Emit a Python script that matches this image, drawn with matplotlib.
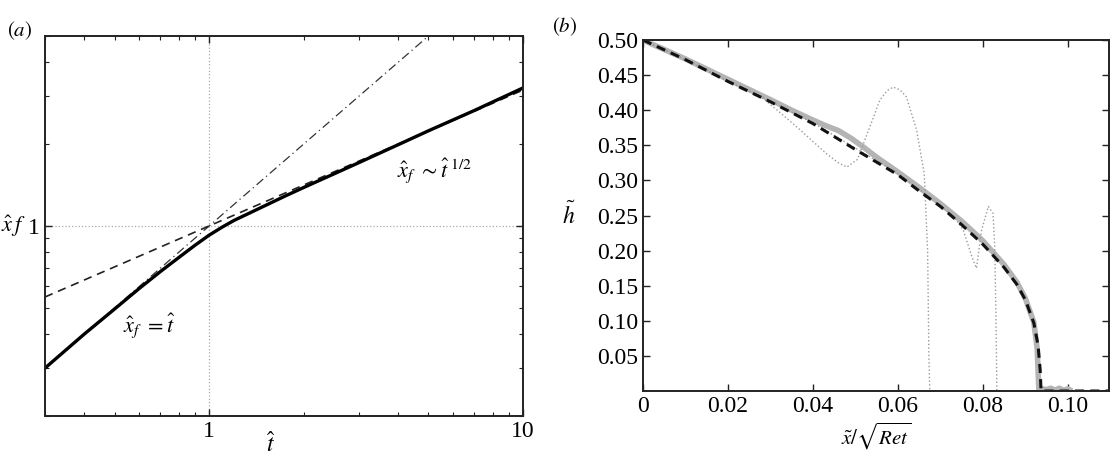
import matplotlib
matplotlib.use('Agg')
import matplotlib.pyplot as plt
from matplotlib.ticker import LogLocator, NullFormatter, FixedLocator

plt.rcParams['font.family'] = ['Liberation Serif', 'DejaVu Serif']
plt.rcParams['mathtext.fontset'] = 'stix'

# panel (a): front position vs time (log-log)
t_num = [0.3, 0.4, 0.5, 0.6, 0.7, 0.8, 0.9, 1.0, 1.1, 1.2, 1.35, 1.5, 1.75, 2.0, 2.5,
         3.0, 4.0, 5.0, 7.0, 10.0]
xf_num = [0.30, 0.40, 0.495, 0.59, 0.68, 0.765, 0.848, 0.925, 0.99, 1.048, 1.118, 1.185,
          1.29, 1.385, 1.555, 1.71, 1.99, 2.24, 2.66, 3.22]
t_short = [0.3, 10.0]
xf_short = [0.3, 10.0]           # x_f = t
t_long = [0.3, 10.0]
xf_long = [0.548, 3.162]         # x_f ~ t^(1/2)

# panel (b): height profiles
x_sim = [0, 0.01, 0.02, 0.03, 0.04, 0.05, 0.06, 0.065, 0.07, 0.075, 0.08, 0.085,
         0.088, 0.09, 0.092, 0.093, 0.0935, 0.0937, 0.11]
h_sim = [0.5, 0.472, 0.441, 0.412, 0.381, 0.344, 0.308, 0.285, 0.263, 0.237, 0.209, 0.176,
         0.152, 0.130, 0.097, 0.065, 0.03, 0.0, 0.0]

x_num = [0, 0.01, 0.02, 0.03, 0.035, 0.04, 0.043, 0.046, 0.049, 0.052, 0.055, 0.06, 0.065,
         0.07, 0.075, 0.08, 0.085, 0.088, 0.09, 0.092, 0.0928, 0.0932, 0.094, 0.095, 0.096,
         0.097, 0.098, 0.099, 0.1, 0.101]
h_num = [0.5, 0.473, 0.444, 0.415, 0.400, 0.386, 0.378, 0.371, 0.360, 0.347, 0.333, 0.312,
         0.290, 0.267, 0.242, 0.214, 0.180, 0.155, 0.132, 0.098, 0.06, 0.0, 0.003, 0.002,
         0.004, 0.001, 0.004, 0.001, 0.003, 0.0]

x_dot1 = [0, 0.01, 0.02, 0.028, 0.032, 0.037, 0.043, 0.046, 0.048, 0.0505, 0.053, 0.0558,
          0.0575, 0.0589, 0.0605, 0.062, 0.0644, 0.0662, 0.067, 0.0673, 0.0675, 0.11]
h_dot1 = [0.5, 0.472, 0.441, 0.418, 0.398, 0.372, 0.339, 0.325, 0.319, 0.33, 0.37, 0.415,
          0.428, 0.433, 0.429, 0.419, 0.372, 0.31, 0.2, 0.05, 0.0, 0.0]

x_dot2 = [0, 0.01, 0.02, 0.03, 0.04, 0.05, 0.06, 0.065, 0.07, 0.073, 0.0754, 0.0775, 0.0785,
          0.0797, 0.0813, 0.0824, 0.0828, 0.0831, 0.0833, 0.11]
h_dot2 = [0.5, 0.472, 0.442, 0.413, 0.382, 0.346, 0.31, 0.287, 0.264, 0.25, 0.229, 0.19, 0.175,
          0.229, 0.263, 0.253, 0.206, 0.1, 0.0, 0.0]

xticks_b = [0, 0.02, 0.04, 0.06, 0.08, 0.10]
xticklabels_b = ['0', '0.02', '0.04', '0.06', '0.08', '0.10']
yticks_b = [0.05, 0.10, 0.15, 0.20, 0.25, 0.30, 0.35, 0.40, 0.45, 0.50]

fig = plt.figure(figsize=(11.1, 4.57), dpi=100)
ax1 = fig.add_axes([0.0405, 0.0897, 0.4306, 0.8315])
ax2 = fig.add_axes([0.5793, 0.1444, 0.4198, 0.768])

fs = 17
spine_col = '#222222'

# ---- (a)
ax1.set_xscale('log')
ax1.set_yscale('log')
ax1.axvline(1, color='#aaaaaa', lw=0.9, ls=':', zorder=0)
ax1.axhline(1, color='#aaaaaa', lw=0.9, ls=':', zorder=0)
ax1.plot(t_short, xf_short, color='#333333', lw=0.9, ls=(0, (7, 3, 1, 3)))
ax1.plot(t_long, xf_long, color='#222222', lw=1.2, ls=(0, (5, 3.5)))
ax1.plot(t_num, xf_num, color='black', lw=2.4)
ax1.set_xlim(0.3, 10)
ax1.set_ylim(0.2, 5)
ax1.xaxis.set_major_locator(FixedLocator([1, 10]))
ax1.set_xticklabels(['1', '10'])
ax1.xaxis.set_minor_locator(LogLocator(base=10, subs=range(2, 10)))
ax1.xaxis.set_minor_formatter(NullFormatter())
ax1.yaxis.set_major_locator(FixedLocator([1]))
ax1.set_yticklabels(['1'])
ax1.yaxis.set_minor_locator(LogLocator(base=10, subs=range(2, 10)))
ax1.yaxis.set_minor_formatter(NullFormatter())
ax1.text(0.473, -0.075, r'$\hat{t}$', transform=ax1.transAxes, ha='center', va='center', fontsize=fs)
fig.text(0.0005, 0.505, r'$\hat{x}\,f$', ha='left', va='center', fontsize=fs - 1)
ax1.text(0.816, 0.647, r'$\hat{x}_f\ {\sim}\hat{t}^{\ 1/2}$', transform=ax1.transAxes,
         ha='center', va='center', fontsize=fs - 1)
ax1.text(0.218, 0.237, r'$\hat{x}_f\ =\hat{t}$', transform=ax1.transAxes,
         ha='center', va='center', fontsize=fs - 1)
fig.text(0.018, 0.934, r'$(a)$', ha='center', va='center', fontsize=fs - 2)

# ---- (b)
ax2.plot(x_num, h_num, color='#b4b4b4', lw=4.0, solid_capstyle='butt')
ax2.plot(x_dot1, h_dot1, color='#9a9a9a', lw=1.0, ls=':')
ax2.plot(x_dot2, h_dot2, color='#9a9a9a', lw=1.0, ls=':')
ax2.plot(x_sim, h_sim, color='#111111', lw=2.2, ls=(0, (3, 2)))
ax2.set_xlim(0, 0.1097)
ax2.set_ylim(0, 0.5)
ax2.set_xticks(xticks_b)
ax2.set_xticklabels(xticklabels_b)
ax2.set_yticks(yticks_b)
ax2.set_yticklabels(['%.2f' % v for v in yticks_b])
ax2.set_xlabel(r'$\tilde{x}/\sqrt{Ret}$', fontsize=fs - 2, labelpad=3)
ax2.set_ylabel(r'$\tilde{h}$', fontsize=fs, rotation=0, labelpad=20, va='center')
fig.text(0.509, 0.941, r'$(b)$', ha='center', va='center', fontsize=fs - 2)

for ax in (ax1, ax2):
    for s in ax.spines.values():
        s.set_linewidth(1.4)
        s.set_color(spine_col)
    ax.tick_params(which='both', direction='in', top=True, right=True,
                   labelsize=fs, colors=spine_col, labelcolor='black')
    ax.tick_params(which='major', length=5, width=1.0)
    ax.tick_params(which='minor', length=3, width=0.8)

fig.savefig('out.png', dpi=100)
